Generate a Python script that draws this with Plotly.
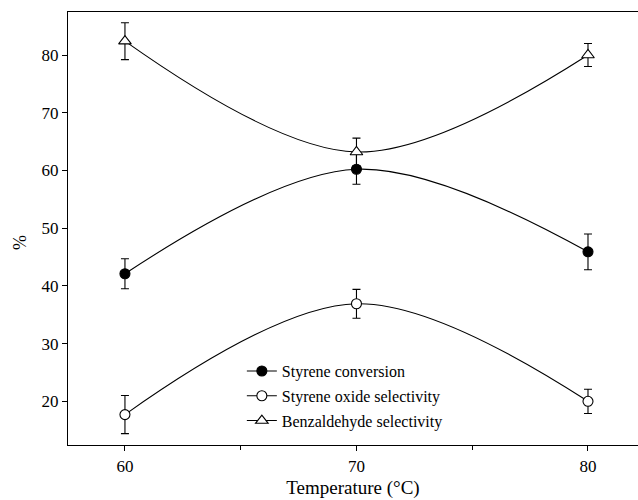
import plotly.graph_objects as go

temps = [60, 70, 80]
conv = [42.1, 60.2, 45.9]
conv_err = [2.6, 2.6, 3.1]
oxide = [17.7, 36.9, 20.0]
oxide_err = [3.3, 2.5, 2.1]
benz = [82.4, 63.2, 80.0]
benz_err = [3.2, 2.4, 2.0]

names = ["Styrene conversion", "Styrene oxide selectivity", "Benzaldehyde selectivity"]
series = [conv, oxide, benz]
errs = [conv_err, oxide_err, benz_err]
symbols = ["circle", "circle", "triangle-up"]
fills = ["black", "white", "white"]
sizes = [10, 10, 11]

fig = go.Figure()
for name, ys, er, sym, fc, sz in zip(names, series, errs, symbols, fills, sizes):
    fig.add_trace(go.Scatter(
        x=temps, y=ys, name=name, legendgroup=name,
        mode="lines+markers",
        line=dict(color="black", width=1.1, shape="spline", smoothing=1),
        marker=dict(symbol=sym, size=sz, color=fc, line=dict(color="black", width=1.1)),
        error_y=dict(type="data", array=er, visible=True, color="black",
                     thickness=1.1, width=4),
    ))

font = "Liberation Serif, Times New Roman, serif"
fig.update_layout(
    width=638, height=500,
    margin=dict(l=68, r=0, t=12, b=55),
    paper_bgcolor="white", plot_bgcolor="white",
    font=dict(family=font, size=15, color="black"),
    showlegend=True,
    legend=dict(x=0.305, y=0.21, xanchor="left", yanchor="top",
                font=dict(family=font, size=16, color="black"),
                bgcolor="rgba(0,0,0,0)", tracegroupgap=1),
    xaxis=dict(range=[57.54, 82.16], tickvals=[60, 70, 80], ticks="outside",
               ticklen=5, tickwidth=1.1, tickcolor="black",
               minor=dict(tickvals=[65, 75], ticks="outside", ticklen=4, tickwidth=1.1, tickcolor="black"),
               showline=True, linecolor="black", linewidth=1.3, mirror=True,
               showgrid=False, zeroline=False,
               title=dict(text="Temperature (°C)", font=dict(size=19), standoff=6),
               tickfont=dict(size=17)),
    yaxis=dict(range=[12.43, 87.45], tickvals=[20, 30, 40, 50, 60, 70, 80], ticks="outside",
               ticklen=5, tickwidth=1.1, tickcolor="black",
               showline=True, linecolor="black", linewidth=1.3, mirror=False,
               showgrid=False, zeroline=False,
               tickfont=dict(size=17)),
    annotations=[dict(text="%", x=20, y=500 - 243, xref="paper", yref="paper",
                      showarrow=False, textangle=-90, font=dict(size=18),
                      xanchor="center", yanchor="middle")],
)
# place the y-title annotation in pixel terms relative to the paper
fig.layout.annotations[0].update(x=(20 - 68) / 570, y=(445 - 243) / 433)
fig.write_html("out.html")
